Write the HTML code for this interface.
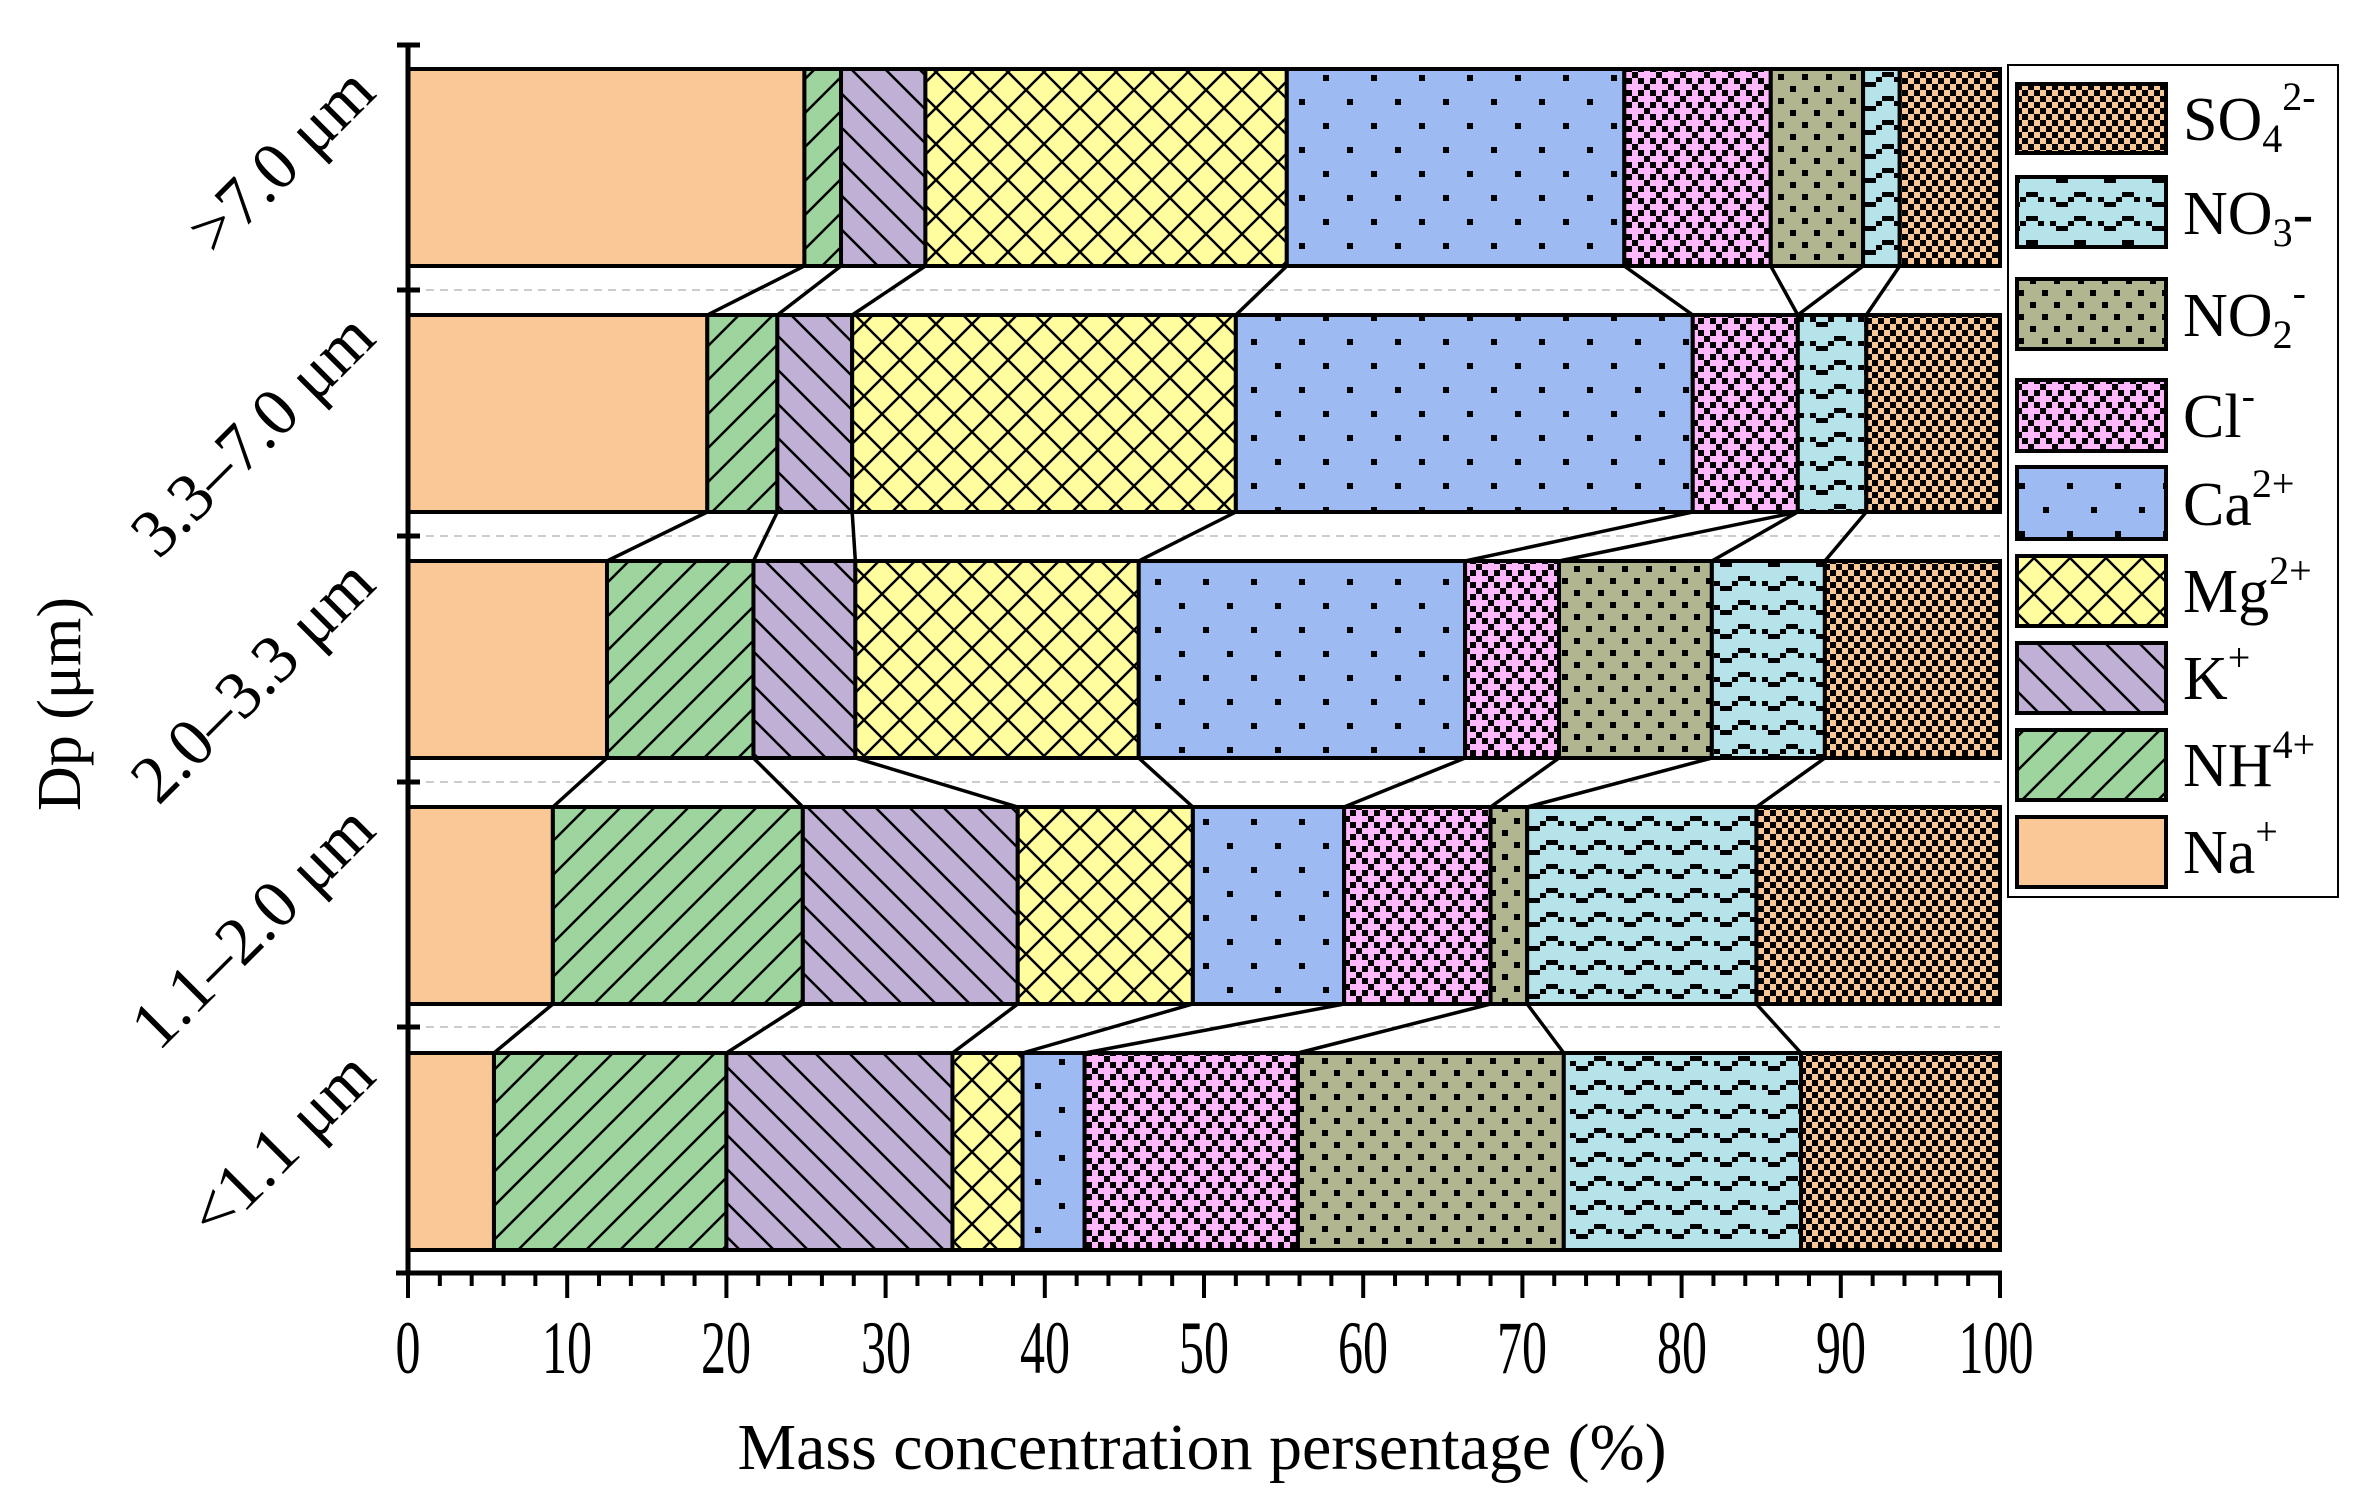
<!DOCTYPE html>
<html><head><meta charset="utf-8"><style>html,body{margin:0;padding:0;background:#fff}svg{display:block}</style></head>
<body>
<svg id="s" width="2375" height="1510" viewBox="0 0 2375 1510" xmlns="http://www.w3.org/2000/svg" font-family="Liberation Serif, serif">
<defs>
<pattern id="pNH" patternUnits="userSpaceOnUse" width="34" height="34"><rect width="34" height="34" fill="#9ED59E"/><path d="M-5,39 L39,-5 M-5,5 L5,-5 M29,39 L39,29" stroke="#000" stroke-width="2.5"/></pattern>
<pattern id="pK" patternUnits="userSpaceOnUse" width="34" height="34"><rect width="34" height="34" fill="#C0B0D6"/><path d="M-5,-5 L39,39 M29,-5 L39,5 M-5,29 L5,39" stroke="#000" stroke-width="2.5"/></pattern>
<pattern id="pMg" patternUnits="userSpaceOnUse" width="36" height="36"><rect width="36" height="36" fill="#FFFD9D"/><path d="M-2,-2 L38,38 M-2,38 L38,-2" stroke="#000" stroke-width="2.5"/></pattern>
<pattern id="pCa" patternUnits="userSpaceOnUse" width="48" height="48"><rect width="48" height="48" fill="#9DBAF2"/><rect x="3" y="3" width="6" height="6" fill="#000"/><rect x="27" y="27" width="6" height="6" fill="#000"/></pattern>
<pattern id="pCl" patternUnits="userSpaceOnUse" width="24" height="24"><rect width="24" height="24" fill="#FFB8FB"/><rect x="0" y="0" width="6" height="6"/><rect x="6" y="6" width="6" height="6"/><rect x="12" y="12" width="6" height="6"/><rect x="18" y="18" width="6" height="6"/><rect x="18" y="6" width="6" height="6"/><rect x="6" y="18" width="6" height="6"/></pattern>
<pattern id="pNO2" patternUnits="userSpaceOnUse" width="24" height="24"><rect width="24" height="24" fill="#B1B590"/><rect x="2" y="2" width="6" height="6"/><rect x="14" y="14" width="6" height="6"/></pattern>
<pattern id="pNO3" patternUnits="userSpaceOnUse" width="48" height="24"><rect width="48" height="24" fill="#B6E3EA"/><g fill="#000"><rect x="10" y="0" width="12" height="5"/><rect x="4" y="5" width="6" height="5"/><rect x="22" y="5" width="6" height="5"/><rect x="34" y="5" width="6" height="5"/><rect x="40" y="10" width="8" height="5"/><rect x="0" y="10" width="4" height="5"/></g></pattern>
<pattern id="pSO" patternUnits="userSpaceOnUse" width="12" height="12"><rect width="12" height="12" fill="#F9C896"/><rect x="0" y="0" width="6" height="6"/><rect x="6" y="6" width="6" height="6"/></pattern>
</defs>
<g id="grid" stroke="#bbb" stroke-width="1.5" stroke-dasharray="8,6">
<line x1="412" y1="290" x2="2000" y2="290"/><line x1="412" y1="536" x2="2000" y2="536"/><line x1="412" y1="782" x2="2000" y2="782"/><line x1="412" y1="1027" x2="2000" y2="1027"/>
</g>
<g id="bars"></g>
<g stroke="#000" fill="none">
<line x1="408" y1="43" x2="408" y2="1275" stroke-width="5"/>
<line x1="396" y1="1273" x2="2002" y2="1273" stroke-width="5"/>
<g stroke-width="5"><line x1="397" y1="45" x2="420" y2="45"/><line x1="397" y1="290" x2="420" y2="290"/><line x1="397" y1="536" x2="420" y2="536"/><line x1="397" y1="782" x2="420" y2="782"/><line x1="397" y1="1027" x2="420" y2="1027"/></g>
<g id="xt" stroke-width="4"></g>
</g>
<g font-size="50" text-anchor="middle" fill="#000" transform="translate(0,1373) scale(1,1.5)">
<text x="408" y="0">0</text><text x="567" y="0">10</text><text x="726" y="0">20</text><text x="886" y="0">30</text><text x="1045" y="0">40</text><text x="1204" y="0">50</text><text x="1363" y="0">60</text><text x="1522" y="0">70</text><text x="1682" y="0">80</text><text x="1841" y="0">90</text><text x="1996" y="0">100</text>
</g>
<text x="1202" y="1469" font-size="66" text-anchor="middle">Mass concentration persentage (%)</text>
<text transform="translate(80,704) rotate(-90)" font-size="62" text-anchor="middle">Dp (μm)</text>
<g font-size="68" text-anchor="end">
<text transform="translate(378,95) rotate(-45)">&gt;7.0 μm</text>
<text transform="translate(378,341) rotate(-45)">3.3–7.0 μm</text>
<text transform="translate(378,587) rotate(-45)">2.0–3.3 μm</text>
<text transform="translate(378,833) rotate(-45)">1.1–2.0 μm</text>
<text transform="translate(378,1079) rotate(-45)">&lt;1.1 μm</text>
</g>
<rect x="2008" y="65" width="330" height="832" fill="#fff" stroke="#000" stroke-width="2"/>
<g stroke="#000" stroke-width="4">
<rect x="2017" y="84" width="149" height="69" fill="url(#pSO)"/>
<rect x="2017" y="177" width="149" height="70" fill="url(#pNO3)"/>
<rect x="2017" y="279" width="149" height="70" fill="url(#pNO2)"/>
<rect x="2017" y="380" width="149" height="71" fill="url(#pCl)"/>
<rect x="2017" y="467" width="149" height="72" fill="url(#pCa)"/>
<rect x="2017" y="556" width="149" height="70" fill="url(#pMg)"/>
<rect x="2017" y="643" width="149" height="70" fill="url(#pK)"/>
<rect x="2017" y="730" width="149" height="70" fill="url(#pNH)"/>
<rect x="2017" y="817" width="149" height="70" fill="#F9C896"/>
</g>
<g font-size="62" fill="#000">
<text x="2183" y="140">SO<tspan font-size="40" dy="12">4</tspan><tspan font-size="40" dy="-42">2-</tspan></text>
<text x="2183" y="234">NO<tspan font-size="40" dy="12">3</tspan><tspan dy="-12">-</tspan></text>
<text x="2183" y="336">NO<tspan font-size="40" dy="12">2</tspan><tspan font-size="40" dy="-42">-</tspan></text>
<text x="2183" y="437">Cl<tspan font-size="40" dy="-28">-</tspan></text>
<text x="2183" y="525">Ca<tspan font-size="40" dy="-28">2+</tspan></text>
<text x="2183" y="612">Mg<tspan font-size="40" dy="-28">2+</tspan></text>
<text x="2183" y="699">K<tspan font-size="40" dy="-28">+</tspan></text>
<text x="2183" y="786">NH<tspan font-size="40" dy="-28">4+</tspan></text>
<text x="2183" y="873">Na<tspan font-size="40" dy="-28">+</tspan></text>
</g>
</svg>
<script>
(function(){
var NS="http://www.w3.org/2000/svg";
function X(p){return 408+15.92*p;}
var data=[[24.9,27.2,32.5,55.2,76.4,85.6,91.4,93.7],[18.8,23.2,27.9,52.0,80.7,87.3,87.3,91.6],[12.5,21.7,28.1,45.9,66.4,72.3,81.9,89.0],[9.1,24.8,38.3,49.3,58.8,68.0,70.3,84.7],[5.4,20.0,34.2,38.6,42.5,55.9,72.6,87.5]];
var fills=["#F9C896","url(#pNH)","url(#pK)","url(#pMg)","url(#pCa)","url(#pCl)","url(#pNO2)","url(#pNO3)","url(#pSO)"];
var g=document.getElementById("bars");
function el(n,a){var e=document.createElementNS(NS,n);for(var k in a)e.setAttribute(k,a[k]);g.appendChild(e);return e;}
for(var i=0;i<5;i++){
 var top=69+i*246,h=197,b=[0].concat(data[i]).concat([100]);
 for(var j=0;j<9;j++){var x0=X(b[j]),x1=X(b[j+1]);if(x1-x0<0.5)continue;
  el("rect",{x:x0,y:top,width:x1-x0,height:h,fill:fills[j],stroke:"#000","stroke-width":4});}
 if(i<4){for(var k=0;k<8;k++){el("line",{x1:X(data[i][k]),y1:top+h,x2:X(data[i+1][k]),y2:top+246,stroke:"#000","stroke-width":3.5});}}
}
var xt=document.getElementById("xt");
for(var p=0;p<=100;p+=2){var l=document.createElementNS(NS,"line");var x=X(p);l.setAttribute("x1",x);l.setAttribute("x2",x);l.setAttribute("y1",1273);l.setAttribute("y2",p%10==0?1298:1286);xt.appendChild(l);}
})();
</script>
</body></html>
